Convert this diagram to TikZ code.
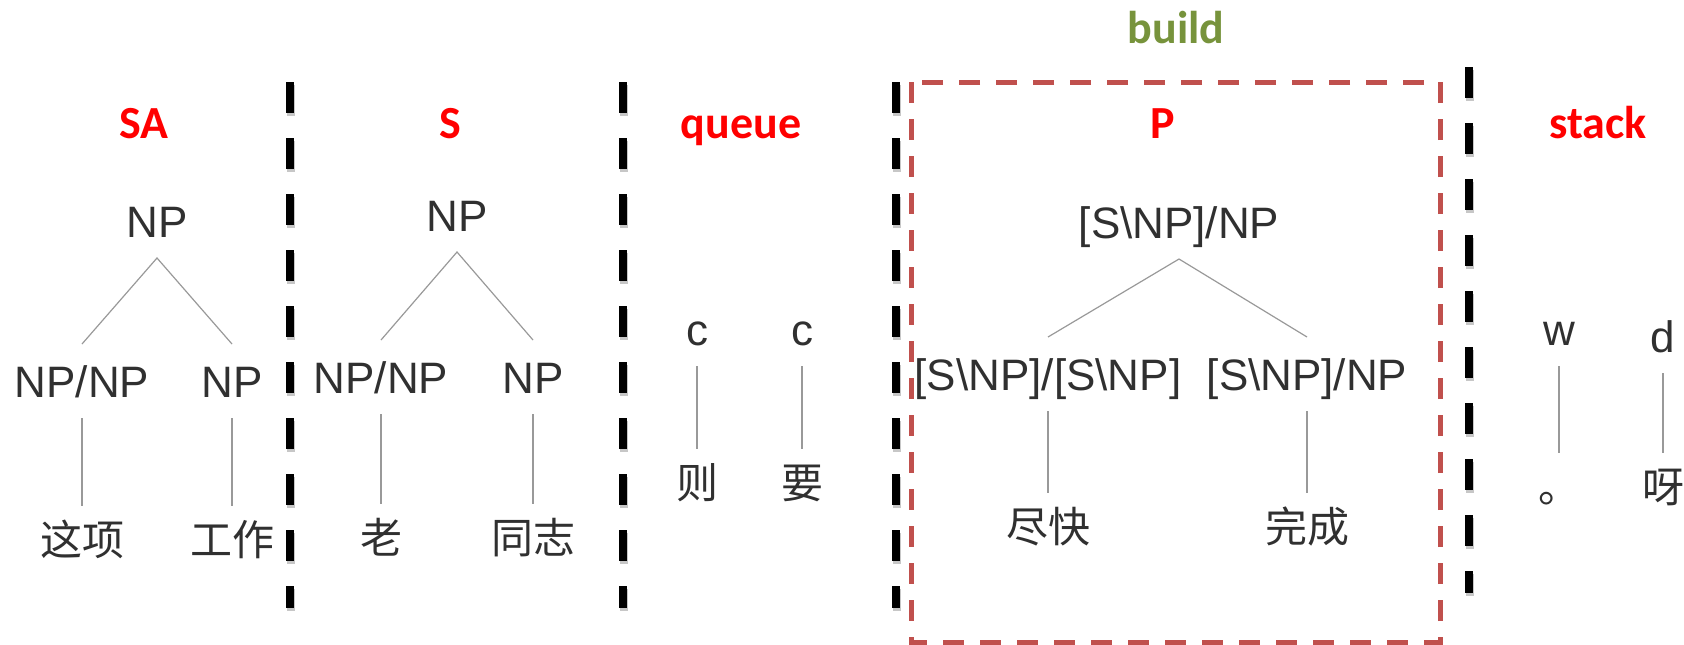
\documentclass[tikz,border=0pt]{standalone}
\usepackage{fontspec}
\newfontfamily\lblfont{Carlito}
\newfontfamily\catfont{Liberation Sans}
\newfontfamily\cjk{Noto Sans CJK SC}
\definecolor{boxred}{HTML}{C0504D}
\definecolor{buildgreen}{HTML}{77933C}
\definecolor{txtgray}{HTML}{303030}
\newcommand{\bs}{\textbackslash}

\tikzset{
  lbl/.style={anchor=base, text=red, font=\lblfont\bfseries\fontsize{23}{27}\selectfont},
  cat/.style={anchor=base, text=txtgray, font=\catfont\fontsize{22}{26}\selectfont,
    inner sep=0pt, outer xsep=0pt, outer ysep=10.5pt, text height=16pt, text depth=0pt},
  word/.style={text=txtgray, font=\cjk\fontsize{21}{25}\selectfont,
    inner sep=0pt, outer xsep=0pt, outer ysep=7.5pt, text height=17.4pt, text depth=1.5pt},
  link/.style={draw=black!40, line width=0.6pt},
  divider/.style={line width=4pt, dash pattern=on 15.5pt off 12.5pt},
}

\begin{document}
\begin{tikzpicture}[x=0.5pt, y=-0.5pt]
\useasboundingbox (0,0) rectangle (1684,644);

% dashed separators
\foreach \xd/\yd in {290/82, 623/82, 896/82, 1469/67}{
  \draw [divider, black!22] (\xd+1,\yd+3) -- (\xd+1,\yd+529);
  \draw [divider] (\xd,\yd) -- (\xd,\yd+526);
}
\draw [boxred, line width=2.5pt, dash pattern=on 10.5pt off 8pt] (911,82) rectangle (1440,642);

\node [lbl] (sa) at (144,138) {SA};
\node [lbl] (s) at (450,138) {S};
\node [lbl] (queue) at (741,138) {queue};
\node [lbl] (p) at (1163,138) {P};
\node [lbl] (stack) at (1598,138) {stack};
\node [lbl, text=buildgreen] (build) at (1176,43) {build};

% SA
\node [cat] (np1) at (157,237) {NP};
\node [cat] (np1l) at (82,397) {NP/NP};
\node [cat] (np1r) at (232,397) {NP};
\node [word] (w1l) at (82,540) {这项};
\node [word] (w1r) at (232,540) {工作};
\draw [link] (np1l.north) -- (np1.south) -- (np1r.north);
\draw [link] (np1l.south) -- (w1l.north);
\draw [link] (np1r.south) -- (w1r.north);

% S
\node [cat] (np2) at (457,231) {NP};
\node [cat] (np2l) at (381,393) {NP/NP};
\node [cat] (np2r) at (533,393) {NP};
\node [word] (w2l) at (381,538) {老};
\node [word] (w2r) at (533,538) {同志};
\draw [link] (np2l.north) -- (np2.south) -- (np2r.north);
\draw [link] (np2l.south) -- (w2l.north);
\draw [link] (np2r.south) -- (w2r.north);

% queue
\node [cat] (q1) at (697,345) {c};
\node [cat] (q2) at (802,345) {c};
\node [word] (w3l) at (697,483) {则};
\node [word] (w3r) at (802,483) {要};
\draw [link] (q1.south) -- (w3l.north);
\draw [link] (q2.south) -- (w3r.north);

% P
\node [cat] (pt) at (1179,238) {[S\bs NP]/NP};
\node [cat] (pl) at (1048,390) {[S\bs NP]/[S\bs NP]};
\node [cat] (pr) at (1307,390) {[S\bs NP]/NP};
\node [word] (w4l) at (1048,527) {尽快};
\node [word] (w4r) at (1307,527) {完成};
\draw [link] (pl.north) -- (pt.south) -- (pr.north);
\draw [link] (pl.south) -- (w4l.north);
\draw [link] (pr.south) -- (w4r.north);

% stack
\node [cat] (st1) at (1559,345) {w};
\node [cat] (st2) at (1663,352) {d};
\node [word] (w5l) at (1559,487) {。};
\node [word] (w5r) at (1663,487) {呀};
\draw [link] (st1.south) -- (w5l.north);
\draw [link] (st2.south) -- (w5r.north);

\end{tikzpicture}
\end{document}
